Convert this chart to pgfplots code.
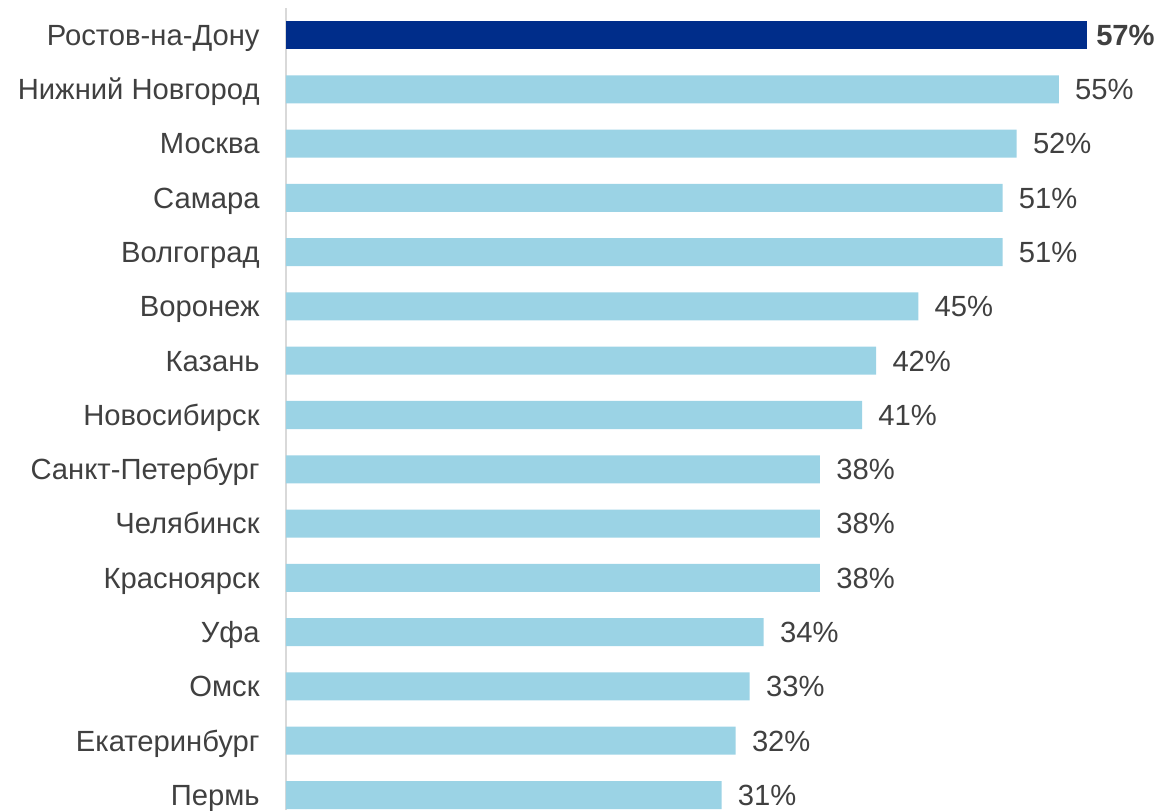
\documentclass[border=0pt]{standalone}
\usepackage{fontspec}
\setmainfont{Liberation Sans}
\usepackage{pgfplots}
\pgfplotsset{compat=1.18}
\definecolor{txt}{HTML}{404040}
\definecolor{lightbar}{HTML}{9BD3E5}
\definecolor{darkbar}{HTML}{002D8A}
\definecolor{axln}{HTML}{D9D9D9}
\begin{document}
\begin{tikzpicture}
\begin{axis}[
  at={(0,0)}, anchor=south west,
  scale only axis, width=421.5pt, height=401pt,
  xbar, bar shift=0pt, bar width=14pt,
  xmin=0, xmax=60, ymin=-0.276, ymax=14.497,
  axis x line=none, axis y line=left,
  y axis line style={-, draw=axln, line width=1pt},
  ytick={0,...,14},
  yticklabels={Пермь,Екатеринбург,Омск,Уфа,Красноярск,Челябинск,Санкт-Петербург,Новосибирск,Казань,Воронеж,Волгоград,Самара,Москва,Нижний Новгород,Ростов-на-Дону},
  ytick style={draw=none}, major tick length=0pt,
  yticklabel style={font=\fontsize{14.6}{17}\selectfont, text=txt, anchor=east, inner sep=0pt, text height=10.4pt, text depth=0pt, xshift=-13pt},
  /pgf/number format/assume math mode=true,
  nodes near coords={\pgfmathprintnumber{\pgfplotspointmeta}\%},
  nodes near coords style={font=\fontsize{14.6}{17}\selectfont, text=txt, anchor=west, inner sep=0pt, xshift=8pt, text height=10.4pt, text depth=0pt},
  clip=false,
]
\addplot[fill=lightbar, draw=none] coordinates {(31,0) (32,1) (33,2) (34,3) (38,4) (38,5) (38,6) (41,7) (42,8) (45,9) (51,10) (51,11) (52,12) (55,13)};
\addplot[fill=darkbar, draw=none, nodes near coords style={font=\fontsize{14.6}{17}\selectfont\bfseries, xshift=-3.5pt}] coordinates {(57,14)};
\end{axis}
\pgfresetboundingbox
\useasboundingbox (-143pt,0pt) rectangle (437.5pt,405pt);
\end{tikzpicture}
\end{document}
